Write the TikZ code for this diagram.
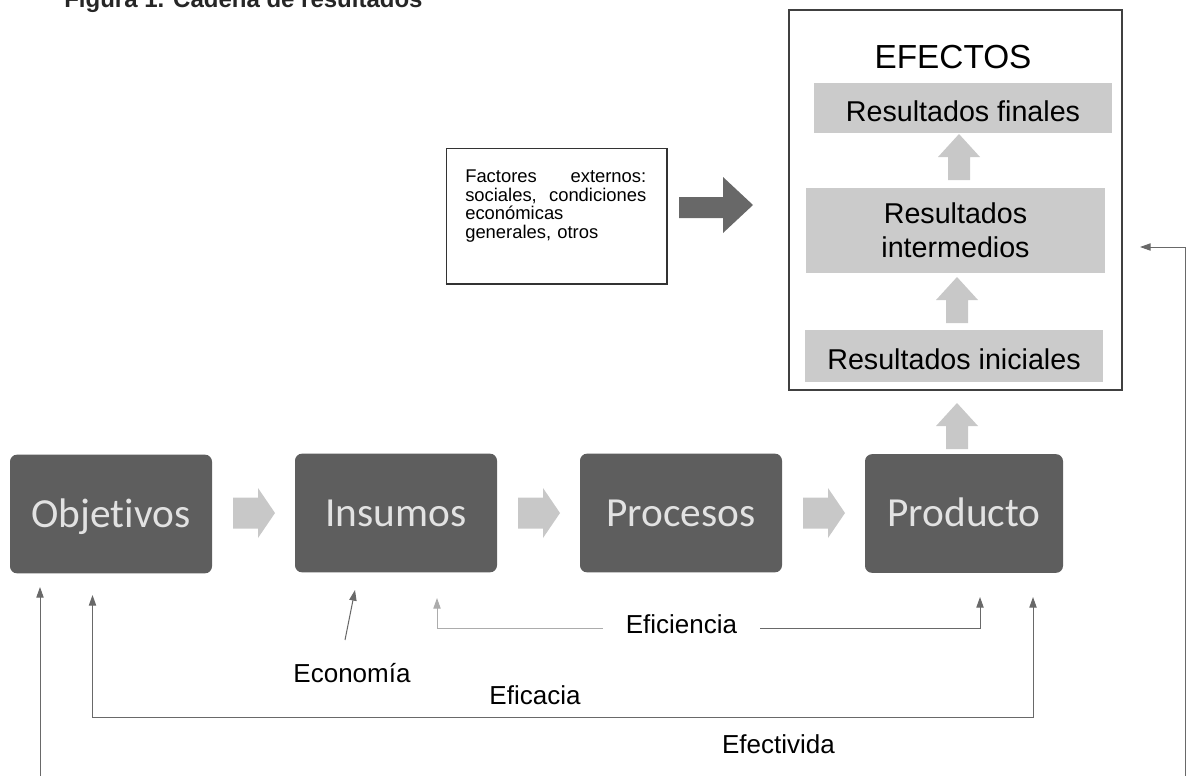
\documentclass[tikz,border=0pt]{standalone}
\usepackage{fontspec}
\setmainfont{Liberation Sans}
\newfontfamily\calfont[Ligatures=NoCommon]{Carlito}
\usetikzlibrary{arrows.meta}
\definecolor{boxdark}{RGB}{94,94,94}
\definecolor{boxtext}{RGB}{226,226,226}
\definecolor{arrowlight}{RGB}{200,200,200}
\definecolor{resfill}{RGB}{203,203,203}
\definecolor{darkarrow}{RGB}{104,104,104}
\definecolor{connc}{RGB}{105,105,105}
\begin{document}
\begin{tikzpicture}[x=0.75pt,y=-0.75pt,
  chainbox/.style={rectangle, rounded corners=5.25pt, fill=boxdark, text=boxtext,
    minimum width=151.5pt, minimum height=89pt, inner sep=0pt,
    font=\calfont\fontsize{31}{36}\selectfont, text height=19.8pt, text depth=0pt},
  resbox/.style={rectangle, fill=resfill, inner sep=0pt, font=\fontsize{21.5}{25.5}\selectfont},
  lab/.style={inner sep=0pt, font=\fontsize{19.5}{23}\selectfont, text height=14pt, text depth=0pt},
  conn/.style={draw=connc, line width=0.75pt},
  tiphead/.tip={Triangle[length=8pt,width=5.5pt]},
  rarrow/.pic={\fill[arrowlight] (0,-15.5) -- (25,-15.5) -- (25,-25) -- (42,0) -- (25,25) -- (25,15.5) -- (0,15.5) -- cycle;},
  uarrow/.pic={\fill[arrowlight] (-11,0) -- (-11,-23) -- (-21,-23) -- (0,-46) -- (21,-23) -- (11,-23) -- (11,0) -- cycle;}
]
\useasboundingbox (0,0) rectangle (1195,775);
\clip (0,0) rectangle (1195,775);

% title (cut off at the top, as in the reference)
\node[anchor=base west, inner sep=0pt, text=black!85, font=\bfseries\fontsize{18}{21}\selectfont] (title) at (64,7) {Figura 1. Cadena de resultados};

% chain boxes
\node[chainbox] (obj) at (111,514) {Objetivos};
\node[chainbox] (ins) at (396,513) {Insumos};
\node[chainbox] (proc) at (681,513) {Procesos};
\node[chainbox, minimum width=148.5pt] (prod) at (964,513.5) {Producto};
\pic at (233,513) {rarrow};
\pic at (518,513) {rarrow};
\pic at (803,513) {rarrow};

% effects box
\node[draw=black!75, line width=0.9pt, minimum width=249.75pt, minimum height=285pt, inner sep=0pt] (efx) at (955.5,200) {};
\node[inner sep=0pt, font=\fontsize{25}{30}\selectfont, text height=17.5pt, text depth=0pt] (eftitle) at (953,56.5) {EFECTOS};
\node[resbox, minimum width=223.5pt, minimum height=37.5pt, text height=19.5pt, text depth=0pt] (rfin) at (963,108) {Resultados finales};
\node[resbox, minimum width=224.25pt, minimum height=63.75pt, align=center] (rint) at (955.5,230) {Resultados\\intermedios};
\node[resbox, minimum width=223.5pt, minimum height=39pt, text height=19.5pt, text depth=0pt] (rini) at (954,356) {Resultados iniciales};
\pic at (959,180) {uarrow};
\pic at (957,323) {uarrow};
\pic at (957,449) {uarrow};

% external factors
\node[draw=black!80, line width=0.75pt, minimum width=165pt, minimum height=101.25pt, inner sep=0pt] (factbox) at (556,215.5) {};
\draw[black!80, line width=1.5pt] (factbox.south west) -- (factbox.south east) -- (factbox.north east);
\node[anchor=north west, inner sep=0pt, text width=135.75pt, align=left, font=\fontsize{13.8}{13.8}\selectfont] (facttext) at (465,170)
  {\makebox[135.75pt][s]{Factores\hfill externos:}\\
   \makebox[135.75pt][s]{sociales,\hfill condiciones}\\
   económicas\\
   generales, otros};
\fill[darkarrow] (679,197) -- (723,197) -- (723,177) -- (753,205) -- (723,233) -- (723,218) -- (679,218) -- cycle;

% feedback connectors
\coordinate (effTip) at (1140,247);
\coordinate (objL) at (40,587);
\coordinate (objR) at (92.5,595);
\coordinate (prodR) at (1033,597);
\coordinate (prodL) at (980,597);
\coordinate (insR) at (437,598);
\coordinate (insE) at (355,590);
\coordinate (econT) at (345,640);

\draw[conn, tiphead-tiphead] (effTip) -| (1185,778) -| (objL);
\draw[conn, tiphead-tiphead] (objR) -- (92.5,717) -| (prodR);

\node[lab, inner xsep=17pt, text depth=6.8pt] (efic) at (681.5,628.5) {Eficiencia};
\draw[conn, draw=connc!55, tiphead-] (insR) |- (efic.west);
\draw[conn, -tiphead] (efic.east) -| (prodL);

\draw[conn, -tiphead] (econT) -- (insE);
\node[lab] (econ) at (352,673.5) {Economía};
\node[lab] (efica) at (535,695) {Eficacia};
\node[lab] (efect) at (778.5,744) {Efectivida};
\end{tikzpicture}
\end{document}
